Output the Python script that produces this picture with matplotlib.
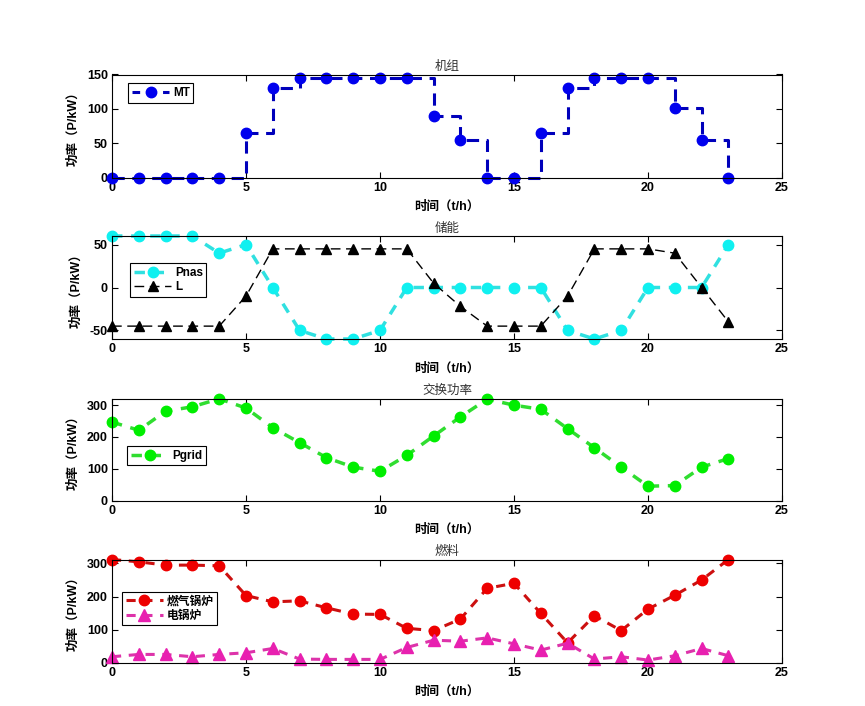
import matplotlib
matplotlib.use("Agg")
import matplotlib.pyplot as plt
import numpy as np

plt.rcParams['font.family'] = ['Liberation Sans', 'Noto Sans CJK SC', 'DejaVu Sans']
plt.rcParams['axes.unicode_minus'] = False

# === DATA ===
hours = np.arange(24)
mt = [0, 0, 0, 0, 0, 65, 130, 145, 145, 145, 145, 145,
      90, 55, 0, 0, 65, 130, 145, 145, 145, 102, 55, 0]
pnas = [60, 60, 60, 60, 40, 50, 0, -50, -60, -60, -50, 0,
        0, 0, 0, 0, 0, -50, -60, -50, 0, 0, 0, 50]
load_l = [-45, -45, -45, -45, -45, -10, 45, 45, 45, 45, 45, 45,
          5, -22, -45, -45, -45, -10, 45, 45, 45, 40, 0, -40]
pgrid = [247, 221, 281, 295, 320, 291, 229, 182, 135, 105, 92, 142,
         203, 263, 319, 300, 287, 226, 166, 105, 45, 47, 105, 132]
gas_boiler = [312, 305, 295, 295, 293, 203, 184, 187, 166, 147, 146, 104,
              97, 132, 225, 240, 149, 60, 142, 97, 162, 204, 250, 312]
elec_boiler = [18, 25, 25, 18, 25, 30, 43, 11, 10, 10, 10, 46,
               68, 65, 75, 57, 38, 59, 11, 18, 8, 21, 43, 21]

titles = ['机组', '储能', '交换功率', '燃料']
ylims = [(0, 150), (-60, 60), (0, 321), (0, 312)]
yticks = [[0, 50, 100, 150], [-50, 0, 50], [0, 100, 200, 300], [0, 100, 200, 300]]
legend_pos = [(0.024, 0.913), (0.027, 0.735), (0.023, 0.531), (0.015, 0.687)]

# === FIGURE ===
W, H = 865, 706
fig = plt.figure(figsize=(W / 100, H / 100), dpi=100)
left, right = 112, 782
tops = [74.5, 236, 398.5, 559.5]
bottoms = [177.7, 339, 500.5, 662.7]
axes = []
for t, b in zip(tops, bottoms):
    axes.append(fig.add_axes([left / W, 1 - b / H, (right - left) / W, (b - t) / H]))

ax1, ax2, ax3, ax4 = axes
MS = 7.5

ax1.step(hours, mt, where='post', color='#0000bb', ls='--', lw=2.2, dashes=(4, 2.5),
         clip_on=False)
ax1.plot(hours, mt, ls='none', marker='o', ms=MS, color='#0000ee', clip_on=False)
ax1.plot([], [], ls='--', lw=2.2, dashes=(2.5, 2.5), marker='o', ms=MS,
         color='#0000bb', mfc='#0000ee', mec='#0000ee', label='MT')

ax2.plot(hours, pnas, ls='--', lw=2.5, dashes=(3, 2.5), color='#30e0e0',
         marker='o', ms=MS, mfc='#10f0f0', mec='#10f0f0', label='Pnas', clip_on=False)
ax2.plot(hours, load_l, ls='--', lw=1.0, dashes=(7, 4), color='black',
         marker='^', ms=7, label='L', clip_on=False)

ax3.plot(hours, pgrid, ls='--', lw=2.5, dashes=(3, 2.5), color='#30dd30',
         marker='o', ms=MS, mfc='#00ee00', mec='#00ee00', label='Pgrid', clip_on=False)

ax4.plot(hours, gas_boiler, ls='--', lw=2.2, dashes=(3, 2.5), color='#cc1010',
         marker='o', ms=MS, mfc='#ee0000', mec='#ee0000', label='燃气锅炉', clip_on=False)
ax4.plot(hours, elec_boiler, ls='--', lw=2.2, dashes=(3, 2.5), color='#dd33aa',
         marker='^', ms=8, mfc='#e820b0', mec='#e820b0', label='电锅炉', clip_on=False)

for ax, ttl, yl, yt, lp in zip(axes, titles, ylims, yticks, legend_pos):
    ax.set_xlim(0, 25)
    ax.set_ylim(*yl)
    ax.set_xticks([0, 5, 10, 15, 20, 25])
    ax.set_yticks(yt)
    ax.tick_params(direction='in', top=True, right=True, length=4, width=0.8,
                   labelsize=9, pad=3)
    for lab in ax.get_xticklabels() + ax.get_yticklabels():
        lab.set_fontweight('bold')
    for sp in ax.spines.values():
        sp.set_linewidth(0.8)
    ax.set_title(ttl, fontsize=9, color='#333333', pad=3)
    ax.set_xlabel('时间（t/h）', fontsize=9, fontweight='bold', labelpad=5)
    ax.set_ylabel('功率（P/kW）', fontsize=9, fontweight='bold', labelpad=5)
    leg = ax.legend(loc='upper left', bbox_to_anchor=lp, borderaxespad=0,
                    fancybox=False, edgecolor='black', framealpha=1,
                    handlelength=3.2, handletextpad=0.3, borderpad=0.3,
                    labelspacing=0.2, numpoints=1,
                    prop={'size': 8.5, 'weight': 'bold'})
    leg.get_frame().set_linewidth(0.8)

fig.savefig('out.png', dpi=100)
